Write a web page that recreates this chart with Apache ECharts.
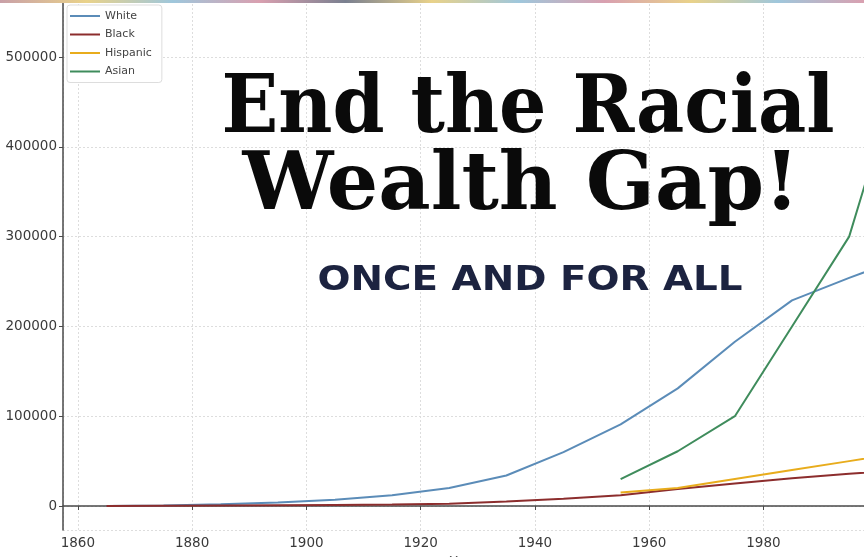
<!DOCTYPE html>
<html>
<head>
<meta charset="utf-8">
<script src="https://cdn.jsdelivr.net/npm/echarts@6/dist/echarts.min.js"></script>
<style>html,body{margin:0;padding:0;background:#fff}#c{width:864px;height:557px}</style>
</head>
<body>
<div id="c"></div>
<script>
var years = [1865, 1875, 1885, 1895, 1905, 1915, 1925, 1935, 1945, 1955, 1965, 1975, 1985, 1995, 2005];
var white = [0, 500, 2000, 4000, 7000, 12000, 20000, 34000, 60000, 91000, 131000, 183000, 229000, 254000, 278000];
var black = [0, 200, 500, 800, 1200, 1800, 2500, 5000, 8000, 12000, 19000, 25000, 31000, 36000, 40000];
var hispYears = [1955, 1965, 1975, 1985, 1995, 2005];
var hispanic = [15000, 20000, 30000, 40000, 50000, 60000];
var asianYears = [1955, 1965, 1975, 1985, 1995, 2005];
var asian = [30000, 61000, 100000, 200000, 300000, 510000];
var seriesNames = ['White', 'Black', 'Hispanic', 'Asian'];
var titleLine1 = 'End the Racial';
var titleLine2 = 'Wealth Gap!';
var subtitle = 'ONCE AND FOR ALL';

function pairs(xs, ys) { return xs.map(function (x, i) { return [x, ys[i]]; }); }

var ctx = document.createElement('canvas').getContext('2d');
function fitScale(text, font, target) { ctx.font = font; return target / ctx.measureText(text).width; }

var f1 = '900 80px "DejaVu Serif"';
var f3 = 'bold 34px "DejaVu Sans"';

var chart = echarts.init(document.getElementById('c'));
var axisLine = { show: true, lineStyle: { color: '#4a4a4a', width: 1.5 } };
var gridLine = { show: true, lineStyle: { color: '#ddd', type: [2, 2], width: 1 } };
var labelStyle = { color: '#3a3a3a', fontSize: 13.5, fontFamily: 'DejaVu Sans', formatter: function (v) { return String(v); } };

chart.setOption({
  animation: false,
  backgroundColor: '#fff',
  grid: { left: 63, right: 0, top: 0, bottom: 27, containLabel: false, outerBoundsMode: 'none' },
  legend: {
    data: seriesNames, orient: 'vertical', left: 67, top: 5,
    icon: 'rect', itemWidth: 30, itemHeight: 2, itemGap: 4.5,
    backgroundColor: '#fff', borderColor: '#ddd', borderWidth: 1, borderRadius: 3,
    padding: [4, 10, 4, 3],
    textStyle: { color: '#444', fontSize: 11, lineHeight: 14, fontFamily: 'DejaVu Sans' }
  },
  xAxis: {
    type: 'value', min: 1857.4, max: 1997.6, minInterval: 20, maxInterval: 20,
    name: 'Year', nameLocation: 'middle', nameGap: 21,
    nameTextStyle: { color: '#444', fontSize: 13, fontFamily: 'DejaVu Sans' },
    axisLine: axisLine, axisTick: { show: true, length: 4, lineStyle: { color: '#4a4a4a' } },
    axisLabel: Object.assign({ showMinLabel: false, showMaxLabel: false, margin: 6 }, labelStyle),
    splitLine: gridLine
  },
  yAxis: {
    type: 'value', min: -26700, max: 563500, minInterval: 100000, maxInterval: 100000,
    axisLine: axisLine, axisTick: { show: true, length: 4, lineStyle: { color: '#4a4a4a' } },
    axisLabel: Object.assign({ showMinLabel: false, showMaxLabel: false, margin: 6 }, labelStyle),
    splitLine: gridLine
  },
  series: [
    { name: 'White', type: 'line', data: pairs(years, white), symbol: 'none', lineStyle: { width: 2, color: '#5b8cb8' }, itemStyle: { color: '#5b8cb8' } },
    { name: 'Black', type: 'line', data: pairs(years, black), symbol: 'none', lineStyle: { width: 2, color: '#8c2d2d' }, itemStyle: { color: '#8c2d2d' } },
    { name: 'Hispanic', type: 'line', data: pairs(hispYears, hispanic), symbol: 'none', lineStyle: { width: 2, color: '#e8ac1c' }, itemStyle: { color: '#e8ac1c' } },
    { name: 'Asian', type: 'line', data: pairs(asianYears, asian), symbol: 'none', lineStyle: { width: 2, color: '#3f8c5c' }, itemStyle: { color: '#3f8c5c' } }
  ],
  graphic: [
    { type: 'rect', z: 100, shape: { x: 0, y: 0, width: 864, height: 3 },
      style: { fill: new echarts.graphic.LinearGradient(0, 0, 1, 0, [
        { offset: 0, color: '#c9a0a8' }, { offset: 0.1, color: '#e9d28a' }, { offset: 0.2, color: '#9fc7dc' },
        { offset: 0.3, color: '#d9a0b0' }, { offset: 0.4, color: '#7a8090' }, { offset: 0.5, color: '#e9d28a' },
        { offset: 0.6, color: '#9fc7dc' }, { offset: 0.7, color: '#d9a0b0' }, { offset: 0.8, color: '#e9d28a' },
        { offset: 0.9, color: '#9fc7dc' }, { offset: 1, color: '#d9a0b0' }]) } },
    { type: 'text', z: 100, x: 528, y: 111, scaleX: fitScale(titleLine1, f1, 613),
      style: { text: titleLine1, font: f1, fill: '#0a0a0a', align: 'center', verticalAlign: 'middle' } },
    { type: 'text', z: 100, x: 521, y: 188, scaleX: fitScale(titleLine2, f1, 557),
      style: { text: titleLine2, font: f1, fill: '#0a0a0a', align: 'center', verticalAlign: 'middle' } },
    { type: 'text', z: 100, x: 530, y: 281, scaleX: fitScale(subtitle, f3, 425),
      style: { text: subtitle, font: f3, fill: '#1c2340', align: 'center', verticalAlign: 'middle' } }
  ]
});
</script>
</body>
</html>
